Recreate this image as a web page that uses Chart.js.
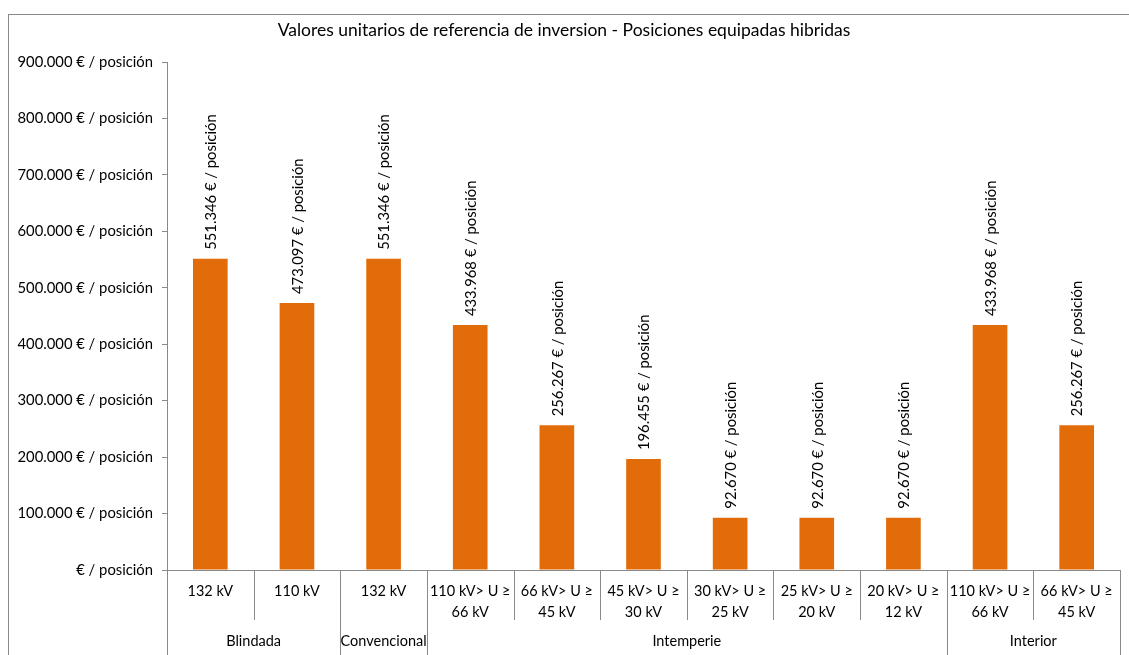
<!DOCTYPE html>
<html>
<head>
<meta charset="utf-8">
<script src="https://cdn.jsdelivr.net/npm/chart.js@4"></script>
<style>
  html, body { margin: 0; padding: 0; background: #fff; overflow: hidden; }
  #wrap { position: relative; width: 1129px; height: 655px; }
  #frame { position: absolute; left: 8px; top: 14px; width: 1200px; height: 700px; border: 1px solid #8a8a8a; box-sizing: border-box; }
  canvas { position: absolute; left: 0; top: 0; }
</style>
</head>
<body>
<div id="wrap">
  <div id="frame"></div>
  <canvas id="chart" width="1129" height="655"></canvas>
</div>
<script>
// chart data
const titleText = 'Valores unitarios de referencia de inversion - Posiciones equipadas hibridas';
const categories = [
    ['132 kV'], ['110 kV'], ['132 kV'],
    ['110 kV> U ≥', '66 kV'], ['66 kV> U ≥', '45 kV'], ['45 kV> U ≥', '30 kV'],
    ['30 kV> U ≥', '25 kV'], ['25 kV> U ≥', '20 kV'], ['20 kV> U ≥', '12 kV'],
    ['110 kV> U ≥', '66 kV'], ['66 kV> U ≥', '45 kV']
];
const values = [551346, 473097, 551346, 433968, 256267, 196455, 92670, 92670, 92670, 433968, 256267];
const groups = ['Blindada', 'Convencional', 'Intemperie', 'Interior'];
const groupSizes = [2, 1, 6, 2];
const yMax = 900000;
const yStep = 100000;

const FONT = 'Lato, "Open Sans", sans-serif';
const barColor = '#E36C0A';
const lineColor = '#8a8a8a';

function fmt(v) {
    return String(v).replace(/\B(?=(\d{3})+(?!\d))/g, '.');
}
function eurLabel(v) {
    return v === 0 ? '€ / posición' : fmt(v) + ' € / posición';
}

// rotated value labels above bars
const barLabels = {
    id: 'barLabels',
    afterDatasetsDraw(chart) {
        const ctx = chart.ctx;
        const meta = chart.getDatasetMeta(0);
        ctx.save();
        ctx.fillStyle = '#000';
        ctx.font = '14.8px ' + FONT;
        ctx.textAlign = 'left';
        ctx.textBaseline = 'middle';
        meta.data.forEach((bar, i) => {
            ctx.save();
            ctx.translate(bar.x + 1, bar.y - 9);
            ctx.rotate(-Math.PI / 2);
            ctx.fillText(eurLabel(values[i]), 0, 0);
            ctx.restore();
        });
        ctx.restore();
    }
};

// category separators and group labels below the x axis
const groupAxis = {
    id: 'groupAxis',
    afterDraw(chart) {
        const ctx = chart.ctx;
        const x = chart.scales.x;
        const bottom = chart.chartArea.bottom;
        const half = (x.getPixelForValue(1) - x.getPixelForValue(0)) / 2;
        const groupEdges = [0];
        groupSizes.forEach(n => groupEdges.push(groupEdges[groupEdges.length - 1] + n));
        ctx.save();
        ctx.strokeStyle = lineColor;
        ctx.lineWidth = 1;
        for (let i = 0; i <= categories.length; i++) {
            const px = Math.round(x.getPixelForValue(i) - half) + 0.5;
            const isGroup = groupEdges.includes(i);
            ctx.beginPath();
            ctx.moveTo(px, bottom);
            ctx.lineTo(px, bottom + (isGroup ? 85 : 50));
            ctx.stroke();
        }
        ctx.fillStyle = '#000';
        ctx.font = '14.5px ' + FONT;
        ctx.textAlign = 'center';
        ctx.textBaseline = 'middle';
        groups.forEach((g, gi) => {
            const a = x.getPixelForValue(groupEdges[gi]) - half;
            const b = x.getPixelForValue(groupEdges[gi + 1]) - half;
            ctx.fillText(g, (a + b) / 2, bottom + 71);
        });
        ctx.restore();
    }
};

new Chart(document.getElementById('chart'), {
    type: 'bar',
    data: {
        labels: categories,
        datasets: [{
            data: values,
            backgroundColor: barColor,
            barPercentage: 0.4,
            categoryPercentage: 1
        }]
    },
    options: {
        responsive: false,
        animation: false,
        layout: { padding: { top: 14, right: 9, left: 8 } },
        plugins: {
            legend: { display: false },
            tooltip: { enabled: false },
            title: {
                display: true,
                text: titleText,
                color: '#000',
                font: { family: FONT, size: 17.5, weight: 'normal', lineHeight: 1.2 },
                padding: { top: 6, bottom: 21 }
            }
        },
        scales: {
            x: {
                grid: { display: false },
                border: { display: true, color: lineColor },
                ticks: {
                    color: '#000',
                    font: { family: FONT, size: 14.5, lineHeight: 1.45 },
                    maxRotation: 0,
                    autoSkip: false,
                    padding: 3
                },
                afterFit(scale) { scale.height = 85; }
            },
            y: {
                min: 0,
                max: yMax,
                grid: { drawOnChartArea: false, tickLength: 5, color: lineColor },
                border: { display: true, color: lineColor },
                ticks: {
                    stepSize: yStep,
                    color: '#000',
                    font: { family: FONT, size: 14.8 },
                    padding: 9,
                    callback: v => eurLabel(v)
                },
                afterFit(scale) { scale.width = 159; }
            }
        }
    },
    plugins: [barLabels, groupAxis]
});
</script>
</body>
</html>
